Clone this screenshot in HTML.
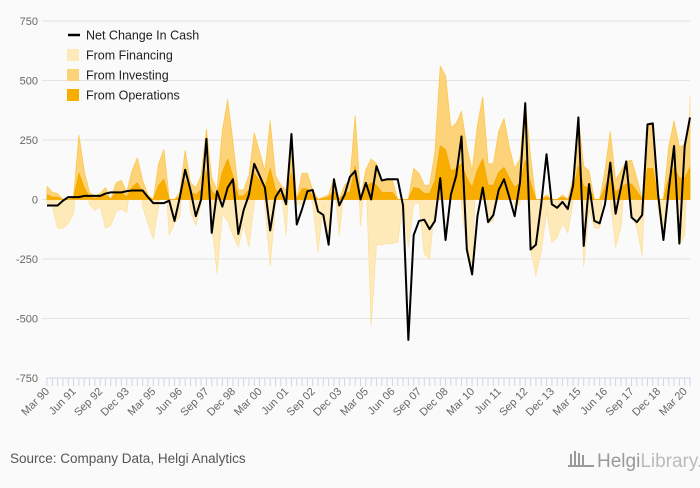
<!DOCTYPE html>
<html><head><meta charset="utf-8">
<style>
html,body{margin:0;padding:0;background:#fafafa;}
body{width:700px;height:483px;overflow:hidden;font-family:"Liberation Sans",sans-serif;}
svg text{font-family:"Liberation Sans",sans-serif;}
</style></head>
<body>
<svg id="chart" width="700" height="483" xmlns="http://www.w3.org/2000/svg">
  <rect x="0" y="0" width="700" height="483" fill="#fafafa"/>
  <g id="grid"></g>
  <g id="yaxis"></g>
  <g id="areas"></g>
  <g id="line"></g>
  <g id="xaxis"></g>
  <g>
    <g>
      <line x1="68" y1="35" x2="80" y2="35" stroke="#000" stroke-width="2.5"/>
      <text x="86" y="39.5" font-size="12.5" fill="#222">Net Change In Cash</text>
    </g>
    <g>
      <rect x="67" y="49" width="12" height="12" fill="#feeab9"/>
      <text x="86" y="59.5" font-size="12.5" fill="#222">From Financing</text>
    </g>
    <g>
      <rect x="67" y="69" width="12" height="12" fill="#fdd37a"/>
      <text x="86" y="79.5" font-size="12.5" fill="#222">From Investing</text>
    </g>
    <g>
      <rect x="67" y="89" width="12" height="12" fill="#f7ae00"/>
      <text x="86" y="99.5" font-size="12.5" fill="#222">From Operations</text>
    </g>
  </g>
  <text x="10" y="463" font-size="13.5" fill="#555">Source: Company Data, Helgi Analytics</text>
  <g>
    <rect x="570" y="454" width="2" height="12" fill="#999"/>
    <rect x="574" y="451" width="2" height="15" fill="#999"/>
    <rect x="578" y="453" width="2" height="13" fill="#999"/>
    <rect x="582" y="455" width="2" height="11" fill="#999"/>
    <rect x="568" y="465" width="26" height="2" fill="#999"/>
    <text x="597" y="467" font-size="19" fill="#999" font-family="Liberation Serif, serif">Helgi<tspan fill="#bbb">Library.</tspan></text>
  </g>
</svg>
<script>
const labels = ["Mar 90","Jun 91","Sep 92","Dec 93","Mar 95","Jun 96","Sep 97","Dec 98","Mar 00","Jun 01","Sep 02","Dec 03","Mar 05","Jun 06","Sep 07","Dec 08","Mar 10","Jun 11","Sep 12","Dec 13","Mar 15","Jun 16","Sep 17","Dec 18","Mar 20"];
const yTicks = [750,500,250,0,-250,-500,-750];
const ops = [20,10,10,0,0,5,110,50,10,5, 10,20,0,30,30,10,50,70,30,10, 0,60,85,0,0,10,80,30,20,40, 120,35,15,115,170,95,15,15,40,110, 80,50,130,40,25,15,110,0,45,45, 15,0,5,10,35,0,25,30,140,0, 50,70,60,30,30,30,0,0,0,50, 45,25,25,80,225,210,120,130,150,90, 50,125,170,60,60,115,135,90,50,70, 165,70,0,0,10,0,0,10,0,35, 140,55,50,0,0,50,115,30,50,65, 65,35,0,130,130,0,0,90,130,90,90,135];
const inv = [35,20,15,0,0,5,160,70,20,10, 15,30,0,40,50,20,70,105,50,10, 0,90,125,0,0,20,125,40,30,60, 175,55,25,175,250,145,25,25,60,170, 120,70,200,60,35,25,170,0,65,65, 25,0,5,10,55,0,35,50,210,0, 75,100,90,50,50,50,0,0,0,80, 65,35,35,120,335,310,180,190,220,130, 70,185,260,90,90,170,205,130,80,100, 245,110,0,0,10,0,0,10,0,55, 205,85,70,0,0,70,170,50,70,95, 100,55,0,190,190,0,0,130,200,130,140,205];
const fin = [-15,-30,-120,-120,-100,-60,0,0,-20,-45, -30,-120,-110,-50,-40,-55,0,0,-30,-100, -165,-30,0,-150,-100,-70,0,-50,-110,-20, 0,-100,-310,-60,-90,-150,-200,-100,-200,-20, 0,-30,-280,-20,0,-150,0,-20,-20,0, -20,-220,-20,-190,0,-150,0,0,0,-110, 0,-530,-190,-190,-185,-185,-180,-10,-200,-20, -10,-230,-250,-20,0,0,0,0,-20,-210, -320,0,0,-100,-90,0,0,0,-30,-20, 0,-210,-320,-220,-50,-180,-160,-100,-140,-10, 0,-280,-40,-120,-120,0,-10,-200,-120,0, -60,-120,-235,0,0,-40,-170,0,0,-190,-150,95];
const net = [-25,-25,-25,-5,10,10,10,15,15,15, 15,25,30,30,30,35,38,38,38,10, -15,-15,-15,-5,-90,10,125,40,-70,0, 255,-140,35,-30,50,85,-145,-45,20,150, 100,50,-130,10,45,-20,275,-105,-40,35, 40,-50,-65,-190,85,-25,20,95,120,0, 70,0,140,80,85,85,85,-25,-590,-150, -90,-85,-125,-90,90,-170,20,100,265,-210, -315,-70,50,-95,-65,40,85,10,-70,70, 405,-210,-190,-20,190,-20,-35,-10,-40,60, 345,-195,65,-90,-100,-20,155,-60,50,160, -75,-95,-65,315,320,20,-170,40,225,-185,225,345];

const NS = "http://www.w3.org/2000/svg";
const X0 = 47, X1 = 690, Y_TOP = 21, Y_BOT = 378;
const N = net.length;
function xs(i){ return X0 + (X1 - X0) * i / (N - 1); }
function ys(v){ return Y_TOP + (750 - v) / 1500 * (Y_BOT - Y_TOP); }
function mk(tag, attrs, parent){ const e = document.createElementNS(NS, tag); for (const k in attrs) e.setAttribute(k, attrs[k]); parent.appendChild(e); return e; }

const grid = document.getElementById('grid'), yax = document.getElementById('yaxis');
yTicks.forEach(v => {
  if (v !== -750) {
    const gl = mk('line', {x1:X0-5, x2:X1, y1:ys(v), y2:ys(v), stroke:'#e3e3e3', 'stroke-width':1}, grid);
    
    
  }
  const t = mk('text', {x:38, y:ys(v)+4, 'text-anchor':'end', 'font-size':11, fill:'#666'}, yax);
  t.textContent = v;
  
  
});

// stacking: positive and negative stacks separately, order ops, inv, fin
const series = [{d:ops, fill:'#f7ae00', stroke:'#f5a800', name:'area-operations'},
                {d:inv, fill:'#fdd37a', stroke:'#fcc94f', name:'area-investing'},
                {d:fin, fill:'#feeab9', stroke:'#fde0a0', name:'area-financing'}];
const posBase = new Array(N).fill(0), negBase = new Array(N).fill(0);
const areas = document.getElementById('areas');
const layers = [];
series.forEach(s => {
  const lo = [], hi = [];
  for (let i = 0; i < N; i++) {
    const v = s.d[i];
    if (v >= 0) { lo.push(posBase[i]); hi.push(posBase[i] + v); posBase[i] += v; }
    else { lo.push(negBase[i]); hi.push(negBase[i] + v); negBase[i] += v; }
  }
  layers.push({s, lo, hi});
});
layers.slice().reverse().forEach(L => {
  let d = '';
  for (let i = 0; i < N; i++) d += (i ? 'L' : 'M') + xs(i).toFixed(2) + ',' + ys(L.hi[i]).toFixed(2);
  for (let i = N - 1; i >= 0; i--) d += 'L' + xs(i).toFixed(2) + ',' + ys(L.lo[i]).toFixed(2);
  d += 'Z';
  const p = mk('path', {d, fill:L.s.fill, stroke:L.s.stroke, 'stroke-width':0.8, 'stroke-linejoin':'round'}, areas);
  
  
});

let ld = '';
for (let i = 0; i < N; i++) ld += (i ? 'L' : 'M') + xs(i).toFixed(2) + ',' + ys(net[i]).toFixed(2);
const lp = mk('path', {d:ld, fill:'none', stroke:'#000', 'stroke-width':2, 'stroke-linejoin':'round'}, document.getElementById('line'));



const xax = document.getElementById('xaxis');
const axl = mk('line', {x1:X0-1, x2:X1+1, y1:Y_BOT, y2:Y_BOT, stroke:'#ccd6eb', 'stroke-width':1}, xax);


for (let i = 0; i < N; i++) {
  const tk = mk('line', {x1:xs(i), x2:xs(i), y1:Y_BOT, y2:Y_BOT+8, stroke:'#ccd6eb', 'stroke-width':1}, xax);
  
  
}
labels.forEach((lab, k) => {
  const x = xs(k * 5), y = Y_BOT + 14;
  const t = mk('text', {x:x+3, y:y, 'text-anchor':'end', 'font-size':11, fill:'#666', transform:'rotate(-45 '+(x+3)+' '+y+')'}, xax);
  t.textContent = lab;
  
  
});
</script>
</body></html>
